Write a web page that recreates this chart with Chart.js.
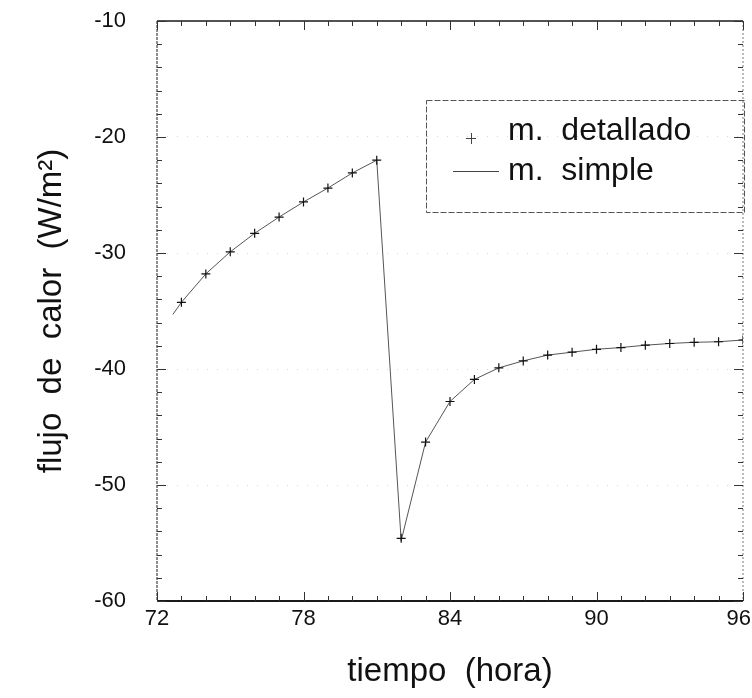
<!DOCTYPE html>
<html>
<head>
<meta charset="utf-8">
<script src="https://cdn.jsdelivr.net/npm/chart.js@4.4.1/dist/chart.umd.min.js"></script>
<style>
  html, body { margin: 0; padding: 0; background: #fff; }
  canvas { display: block; }
</style>
</head>
<body>
<canvas id="c" width="752" height="698"></canvas>
<script>
// Heat flux through the wall between hours 72 and 96
const hours = [73, 74, 75, 76, 77, 78, 79, 80, 81, 82, 83, 84,
               85, 86, 87, 88, 89, 90, 91, 92, 93, 94, 95, 96];
const detallado = [-34.25, -31.8, -29.9, -28.3, -26.9, -25.6, -24.4, -23.1, -22.0, -54.6, -46.3, -42.8,
                   -40.9, -39.9, -39.3, -38.8, -38.55, -38.3, -38.15, -37.95, -37.8, -37.7, -37.65, -37.5];
const simpleHours = [72.65, 73, 74, 75, 76, 77, 78, 79, 80, 81, 82, 83, 84,
                     85, 86, 87, 88, 89, 90, 91, 92, 93, 94, 95, 96];
const simple = [-35.3, -34.25, -31.8, -29.9, -28.3, -26.9, -25.6, -24.4, -23.1, -22.0, -54.8, -46.3, -42.8,
                -40.9, -39.9, -39.3, -38.8, -38.55, -38.3, -38.15, -37.95, -37.8, -37.7, -37.65, -37.5];
const xTickValues = [72, 78, 84, 90, 96];
const yTickValues = [-60, -50, -40, -30, -20, -10];
const seriesNames = ['m.  detallado', 'm.  simple'];

const FONT = '"Liberation Sans", Arial, Helvetica, sans-serif';

// Keep the last x label inside the canvas by right-aligning it at the edge
const lastLabelInside = {
  id: 'lastLabelInside',
  beforeDraw(chart) {
    const items = chart.scales.x.getLabelItems(chart.chartArea);
    const last = items[items.length - 1];
    if (last) {
      last.options.textAlign = 'right';
      last.options.translation[0] = chart.width - 1;
    }
  }
};

// Inward tick marks on all four sides plus the plot frame
const frameTicks = {
  id: 'frameTicks',
  afterDraw(chart) {
    const { ctx, chartArea: a, scales: { x, y } } = chart;
    ctx.save();
    ctx.strokeStyle = '#1a1a1a';
    const seg = (x1, y1, x2, y2) => { ctx.beginPath(); ctx.moveTo(x1, y1); ctx.lineTo(x2, y2); ctx.stroke(); };
    // bottom and top edges
    ctx.lineWidth = 2; seg(a.left, a.bottom, a.right, a.bottom);
    ctx.lineWidth = 1.5; seg(a.left, a.top, a.right, a.top);
    // left edge
    ctx.lineWidth = 1; ctx.setLineDash([3, 1]); seg(a.left, a.top, a.left, a.bottom);
    // right edge, lighter
    ctx.strokeStyle = '#777'; ctx.setLineDash([2, 2]); seg(a.right, a.top, a.right, a.bottom);
    ctx.setLineDash([]);
    ctx.strokeStyle = '#333'; ctx.lineWidth = 1;
    for (let h = x.min; h <= x.max; h += 1) {
      const px = Math.round(x.getPixelForValue(h)) + 0.5;
      const len = (h - x.min) % 6 === 0 ? 9 : 5;
      seg(px, a.bottom, px, a.bottom - len);
      seg(px, a.top, px, a.top + len);
    }
    for (let v = y.min; v <= y.max; v += 2) {
      const py = Math.round(y.getPixelForValue(v)) + 0.5;
      const len = (v - y.min) % 10 === 0 ? 9 : 5;
      seg(a.left, py, a.left + len, py);
      seg(a.right, py, a.right - len, py);
    }
    ctx.restore();
  }
};

// Boxed legend inside the plot, upper right
const boxLegend = {
  id: 'boxLegend',
  afterDraw(chart) {
    const { ctx, chartArea: a } = chart;
    const left = 426, top = 100, right = a.right + 1, bottom = 212;
    ctx.save();
    ctx.strokeStyle = '#555';
    ctx.lineWidth = 1;
    ctx.setLineDash([6, 2]);
    ctx.strokeRect(left + 0.5, top + 0.5, right - left, bottom - top);
    ctx.setLineDash([]);
    // marker sample
    ctx.strokeStyle = '#444';
    ctx.beginPath();
    ctx.moveTo(466, 138.5); ctx.lineTo(476, 138.5);
    ctx.moveTo(471.5, 133); ctx.lineTo(471.5, 144);
    ctx.stroke();
    // line sample
    ctx.beginPath();
    ctx.moveTo(453, 171.5); ctx.lineTo(499, 171.5);
    ctx.stroke();
    ctx.fillStyle = '#111';
    ctx.font = '32px ' + FONT;
    ctx.textBaseline = 'alphabetic';
    ctx.textAlign = 'left';
    ctx.fillText(chart.data.datasets[0].label, 508, 140);
    ctx.fillText(chart.data.datasets[1].label, 508, 180);
    ctx.restore();
  }
};

new Chart(document.getElementById('c'), {
  type: 'scatter',
  data: {
    datasets: [
      {
        label: seriesNames[0],
        data: hours.map((h, i) => ({ x: h, y: detallado[i] })),
        showLine: false,
        pointStyle: 'cross',
        pointRadius: 4.5,
        pointBorderColor: '#111',
        pointBorderWidth: 1.2,
        order: 1
      },
      {
        label: seriesNames[1],
        data: simpleHours.map((h, i) => ({ x: h, y: simple[i] })),
        showLine: true,
        borderColor: '#555',
        borderWidth: 1,
        pointRadius: 0,
        tension: 0,
        order: 2
      }
    ]
  },
  options: {
    responsive: false,
    devicePixelRatio: 1,
    animation: false,
    layout: { padding: { left: 0, right: 9, top: 21, bottom: 0 } },
    plugins: { legend: { display: false }, tooltip: { enabled: false } },
    scales: {
      x: {
        type: 'linear',
        min: 72, max: 96,
        afterFit(s) { s.height = 97; s.paddingLeft = 0; s.paddingRight = 0; },
        afterBuildTicks(s) { s.ticks = xTickValues.map(v => ({ value: v })); },
        grid: { display: false, drawTicks: false },
        border: { display: false },
        ticks: { color: '#111', padding: 5, maxRotation: 0, font: { family: FONT, size: 22 } },
        title: {
          display: true,
          text: 'tiempo  (hora)',
          color: '#111',
          font: { family: FONT, size: 33 },
          padding: { top: 0, bottom: 6 }
        }
      },
      y: {
        type: 'linear',
        min: -60, max: -10,
        afterFit(s) { s.width = 157; s.paddingTop = 0; s.paddingBottom = 0; },
        afterBuildTicks(s) { s.ticks = yTickValues.map(v => ({ value: v })); },
        grid: { display: true, drawTicks: false, color: 'rgba(0,0,0,0.16)', lineWidth: 1 },
        border: { display: false, dash: [1, 9] },
        ticks: { color: '#111', padding: 31, font: { family: FONT, size: 22 } },
        title: {
          display: true,
          text: 'flujo  de  calor  (W/m²)',
          color: '#111',
          font: { family: FONT, size: 33 },
          padding: { top: 32, bottom: 0 }
        }
      }
    }
  },
  plugins: [lastLabelInside, frameTicks, boxLegend]
});
</script>
</body>
</html>
